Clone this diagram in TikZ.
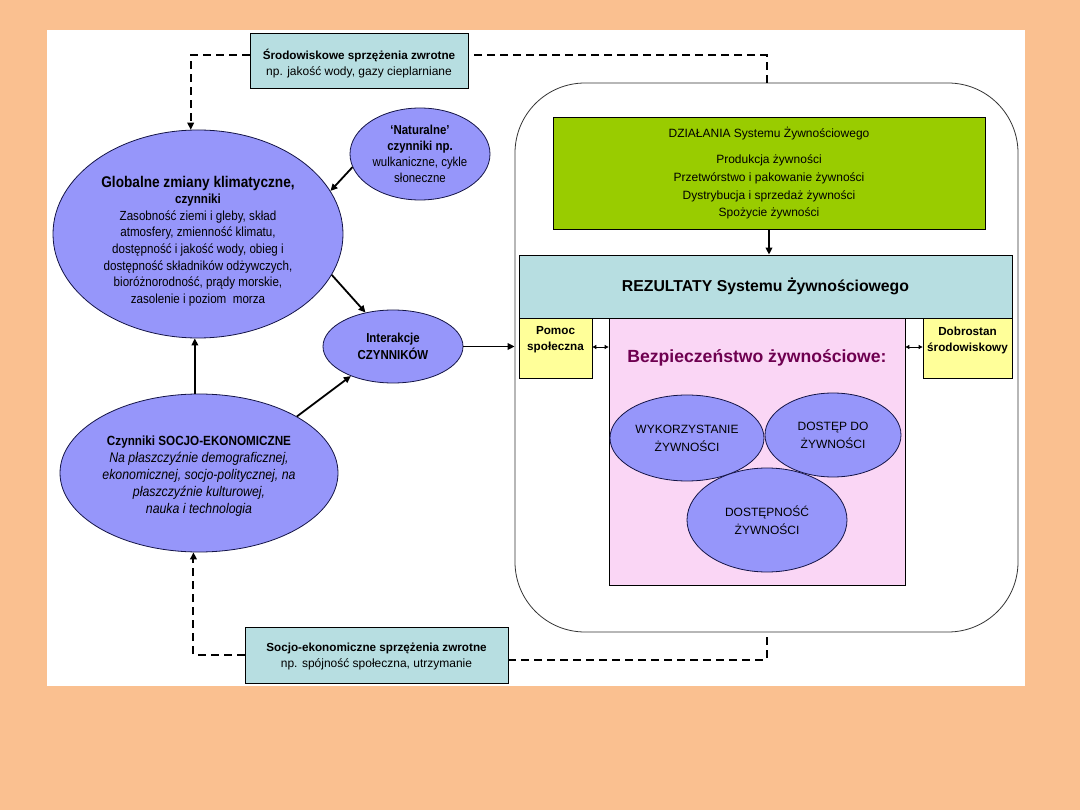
\documentclass[tikz,border=0pt]{standalone}
\usepackage{fontspec}
\setmainfont{Liberation Sans}
\newfontfamily\cond{Liberation Sans}[FakeStretch=0.88]
\usetikzlibrary{shapes.geometric,arrows.meta}
\definecolor{bgorange}{RGB}{250,192,144}
\definecolor{lightblue}{RGB}{183,222,225}
\definecolor{fsgreen}{RGB}{153,204,0}
\definecolor{lyellow}{RGB}{255,255,153}
\definecolor{lpink}{RGB}{250,214,245}
\definecolor{ellblue}{RGB}{150,150,250}
\definecolor{ellborder}{RGB}{20,20,70}
\definecolor{bezcol}{RGB}{110,0,80}
\begin{document}
\begin{tikzpicture}[x=1pt,y=-1pt,
  ell/.style={ellipse, draw=ellborder, line width=0.8pt, fill=ellblue, inner sep=0pt, align=center},
  box/.style={rectangle, draw=black, line width=0.8pt, inner sep=0pt, align=center},
  txt/.style={inner sep=0pt, align=center},
  arr/.style={-{Triangle[length=7pt,width=6.5pt]}, line width=1.8pt},
  darr/.style={{Triangle[length=4pt,width=4pt]}-{Triangle[length=4pt,width=4pt]}, line width=0.9pt},
  fbline/.style={line width=2pt, dash pattern=on 8pt off 5pt},
  fbarr/.style={fbline, -{Triangle[length=7pt,width=6.5pt]}}
]
\useasboundingbox (0,0) rectangle (1080,810);
\fill[bgorange] (0,0) rectangle (1080,810);
\fill[white] (47,30) rectangle (1025,686);

% system frame
\node[draw=black!80, line width=0.8pt, rounded corners=70pt, minimum width=503pt, minimum height=549pt, inner sep=0pt] (sys) at (766.5,357.5) {};

% activities
\node[box, fill=fsgreen, minimum width=432pt, minimum height=112pt, font=\fontsize{12}{17.6}\selectfont] (act) at (769,173)
  {DZIAŁANIA Systemu Żywnościowego\\[9pt] Produkcja żywności\\ Przetwórstwo i pakowanie żywności\\ Dystrybucja i sprzedaż żywności\\ Spożycie żywności};

% results
\node[box, fill=lightblue, minimum width=493pt, minimum height=63pt, font=\bfseries\fontsize{15.8}{20}\selectfont] (res) at (765.5,286.5) {REZULTATY Systemu Żywnościowego};

\node[box, fill=lyellow, minimum width=73pt, minimum height=60pt] (pom) at (555.5,348) {};
\node[txt, anchor=north, font=\bfseries\fontsize{11.7}{16}\selectfont] (pomt) at ([yshift=-9pt]pom.north) {Pomoc\\społeczna};
\node[box, fill=lyellow, minimum width=89pt, minimum height=60pt] (dob) at (967.5,348) {};
\node[txt, anchor=north, font=\bfseries\fontsize{11.7}{16}\selectfont] (dobt) at ([yshift=-9pt]dob.north) {Dobrostan\\środowiskowy};

\node[box, fill=lpink, minimum width=296pt, minimum height=267pt] (pink) at (757,451.5) {};
\node[txt, text=bezcol, font=\bfseries\fontsize{17.6}{22}\selectfont] (bezt) at (757,358) {Bezpieczeństwo żywnościowe:};

\node[ell, minimum width=154pt, minimum height=86pt, font=\fontsize{12}{18}\selectfont] (wyk) at (687,438) {WYKORZYSTANIE\\ŻYWNOŚCI};
\node[ell, minimum width=136pt, minimum height=84pt, font=\fontsize{12}{18}\selectfont] (dos) at (833,435) {DOSTĘP DO\\ŻYWNOŚCI};
\node[ell, minimum width=160pt, minimum height=104pt, font=\fontsize{12}{18}\selectfont] (dpn) at (767,520) {DOSTĘPNOŚĆ\\ŻYWNOŚCI};

\draw[darr] (pom.east |- 0,347) -- (pink.west |- 0,347);
\draw[darr] (pink.east |- 0,347) -- (dob.west |- 0,347);

% left side
\node[ell, minimum width=290pt, minimum height=208pt] (glob) at (198,234) {};
\node[txt, font=\cond\fontsize{13.2}{16.6}\selectfont] (globt) at (198,241)
  {{\bfseries\fontsize{15.5}{16.6}\selectfont Globalne zmiany klimatyczne,}\\
   {\bfseries czynniki}\\
   Zasobność ziemi i gleby, skład\\
   atmosfery, zmienność klimatu,\\
   dostępność i jakość wody, obieg i\\
   dostępność składników odżywczych,\\
   bioróżnorodność, prądy morskie,\\
   zasolenie i poziom\ \ morza};

\node[ell, minimum width=140pt, minimum height=92pt, font=\cond\fontsize{13}{16}\selectfont] (nat) at (420,154)
  {{\bfseries ‘Naturalne’}\\ {\bfseries czynniki np.}\\ wulkaniczne, cykle\\ słoneczne};

\node[ell, minimum width=140pt, minimum height=73pt, font=\cond\bfseries\fontsize{13}{17}\selectfont] (inter) at (393,346.5)
  {Interakcje\\CZYNNIKÓW};

\node[ell, minimum width=278pt, minimum height=158pt] (socio) at (199,473) {};
\node[txt, font=\cond\itshape\fontsize{14}{17}\selectfont] (sociot) at (199,476)
  {{\upshape\bfseries\fontsize{13.3}{17}\selectfont Czynniki SOCJO-EKONOMICZNE}\\
   Na płaszczyźnie demograficznej,\\
   ekonomicznej, socjo-politycznej, na\\
   płaszczyźnie kulturowej,\\
   nauka i technologia};

% feedback boxes
\node[box, fill=lightblue, minimum width=218pt, minimum height=55pt] (fbtop) at (359,60.5) {};
\node[txt, font=\fontsize{12}{16}\selectfont] (fbtopt) at (359,64)
  {{\bfseries\fontsize{11.7}{16}\selectfont Środowiskowe sprzężenia zwrotne}\\ np. jakość wody, gazy cieplarniane};
\node[box, fill=lightblue, minimum width=263pt, minimum height=56pt] (fbbot) at (376.5,655) {};
\node[txt, font=\fontsize{12}{16}\selectfont] (fbbott) at (376.5,656.5)
  {{\bfseries\fontsize{11.7}{16}\selectfont Socjo-ekonomiczne sprzężenia zwrotne}\\ np. spójność społeczna, utrzymanie};

% solid arrows
\draw[arr] (act.south) -- (act.south |- res.north);
\draw[arr] (nat.191) -- (glob.18);
\draw[arr] (glob.-17.5) -- (inter.129);
\draw[arr] (socio.30) -- (inter.215);
\draw[arr] (socio.93) -- (socio.93 |- glob.south);
\draw[arr] (inter.east) -- (inter.east -| sys.west);

% dashed feedback loops
\draw[fbline] (sys.north) -- (sys.north |- 0,55) -- (fbtop.east |- 0,55);
\draw[fbarr] (fbtop.west |- 0,55) -| (glob.94);
\draw[fbline] (fbbot.east |- 0,660) -| (sys.south);
\draw[fbarr] (fbbot.west) -| (socio.266);
\end{tikzpicture}
\end{document}
